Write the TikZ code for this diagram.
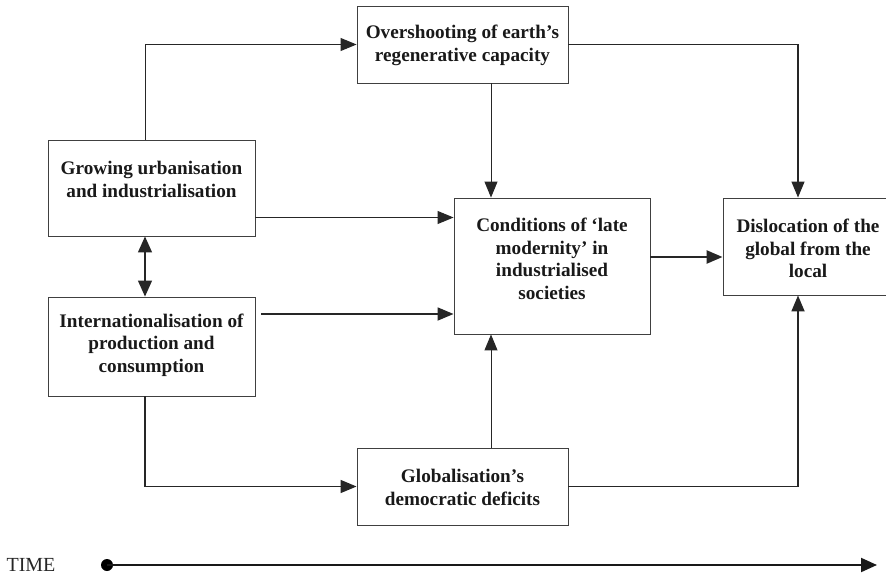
\documentclass[tikz,border=0pt]{standalone}
\usepackage{fontspec}
\setmainfont{Liberation Serif}
\usetikzlibrary{arrows.meta}
\begin{document}
\begin{tikzpicture}[x=1pt,y=-1pt,
  box/.style={draw=black!75, line width=0.9pt, inner sep=0pt},
  lbl/.style={inner sep=0pt, align=center, text=black!90,
    font=\fontsize{19.2}{22.5}\selectfont\bfseries},
  tip/.style={-{Triangle[length=16pt,width=13pt]}},
  link/.style={draw=black!85, line width=1pt, tip},
  boldlink/.style={draw=black!85, line width=1.8pt, tip},
  dot/.style={circle, fill=black, inner sep=0pt, minimum width=9pt, minimum height=12pt}]
\useasboundingbox (0,0) rectangle (886,575);

% boxes
\node[box, minimum width=211pt, minimum height=77pt]  (over) at (462.5,44.5) {};
\node[box, minimum width=207pt, minimum height=96pt]  (grow) at (151.5,188) {};
\node[box, minimum width=207pt, minimum height=99pt]  (intl) at (151.5,346.5) {};
\node[box, minimum width=196pt, minimum height=136pt] (cond) at (552,266) {};
\node[box, minimum width=170pt, minimum height=97pt]  (disl) at (808,246.5) {};
\node[box, minimum width=211pt, minimum height=77pt]  (glob) at (462.5,486.5) {};

% box texts
\node[lbl] (overt) at (462.5,45.5) {Overshooting of earth's\\regenerative capacity};
\node[lbl] (growt) at (151.5,179.5) {Growing urbanisation\\and industrialisation};
\node[lbl] (intlt) at (151.5,345) {Internationalisation of\\production and\\consumption};
\node[lbl] (condt) at (552,259) {Conditions of `late\\modernity' in\\industrialised\\societies};
\node[lbl] (dislt) at (808,248.5) {Dislocation of the\\global from the\\local};
\node[lbl] (globt) at (462.5,487.5) {Globalisation's\\democratic deficits};

% guide coordinates for connector routes
\coordinate (lx) at (145,0);
\coordinate (mx) at (491,0);
\coordinate (rx) at (798,0);
\coordinate (ya) at (0,217.5);
\coordinate (yb) at (0,314);
\coordinate (yc) at (0,257);
\coordinate (ib) at (261,314);

% connectors
\draw[link] (grow.north -| lx) |- (over.west);
\draw[link, line width=1.2pt] (over.east) -| (disl.north -| rx);
\draw[link] (over.south -| mx) -- (cond.north -| mx);
\draw[link] (grow.east |- ya) -- (cond.west |- ya);
\draw[draw=black!85, line width=1.3pt, {Triangle[length=16pt,width=14pt]}-{Triangle[length=16pt,width=14pt]}]
  (grow.south -| lx) -- (intl.north -| lx);
\draw[boldlink] (ib) -- (cond.west |- yb);
\draw[link, line width=1.5pt] (intl.south -| lx) |- (glob.west);
\draw[link] (glob.north -| mx) -- (cond.south -| mx);
\draw[boldlink] (glob.east) -| (disl.south -| rx);
\draw[link, line width=2.4pt] (cond.east |- yc) -- (disl.west |- yc);

% time axis
\node[inner sep=0pt, font=\fontsize{20}{24}\selectfont, text=black!85] (time) at (31,565) {TIME};
\node[dot] (t0) at (107,565) {};
\coordinate (t1) at (877,565);
\draw[draw=black!90, line width=2pt, -{Triangle[length=16pt,width=14pt]}] (t0.center) -- (t1);
\end{tikzpicture}
\end{document}
